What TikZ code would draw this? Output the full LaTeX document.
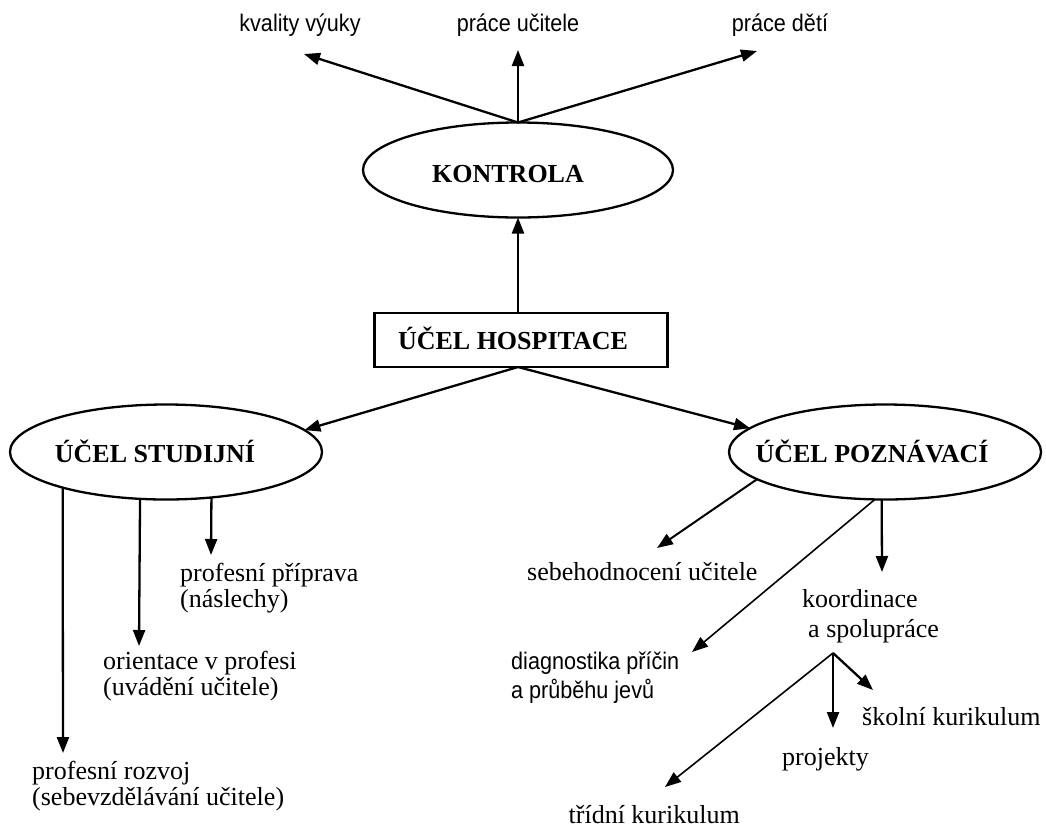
\documentclass[tikz,border=0pt]{standalone}
\usepackage{fontspec}
\setmainfont{Liberation Serif}
\newfontfamily\narrowsans[FakeStretch=0.9]{Liberation Sans}
\usetikzlibrary{arrows.meta,shapes.geometric}
\tikzset{
  tip/.style={-{Triangle[length=16pt,width=12pt]}},
  arr/.style={tip, line width=2.3pt},
  thinarr/.style={tip, line width=1.6pt},
  oval/.style={ellipse, draw, line width=2.3pt, inner sep=0pt, outer sep=0pt},
  bold/.style={inner sep=0pt, anchor=base, font=\fontsize{26}{26}\selectfont\bfseries},
  lbl/.style={inner sep=0pt, anchor=base west, font=\fontsize{26}{26}\selectfont},
  slbl/.style={inner sep=0pt, anchor=base, font=\narrowsans\fontsize{24}{24}\selectfont},
}
\begin{document}
\begin{tikzpicture}[x=1pt,y=-1pt]
\useasboundingbox[fill=white] (0,0) rectangle (1046,828);

% top labels
\node[slbl] (kv) at (300,31) {kvality výuky};
\node[slbl] (pu) at (518,31) {práce učitele};
\node[slbl] (pd) at (780,31) {práce dětí};
\coordinate (kvt) at (304,54);
\coordinate (put) at (518,50);
\coordinate (pdt) at (757,51);

% KONTROLA
\node[oval, minimum width=310pt, minimum height=95pt] (kon) at (518,170) {};
\node[bold] (kont) at (508,182) {KONTROLA};
\draw[arr] (kon.north) -- (kvt);
\draw[arr] (kon.north) -- (put);
\draw[arr] (kon.north) -- (pdt);

% box
\node[draw, line width=2.3pt, minimum width=293pt, minimum height=54pt, inner sep=0pt, outer sep=0pt] (box) at (521,340) {};
\node[bold] (boxt) at (513,349) {ÚČEL HOSPITACE};
\draw[arr] (box.north -| kon.south) -- (kon.south);

% studijni
\node[oval, minimum width=312pt, minimum height=95pt] (stu) at (166,452) {};
\node[bold] (stut) at (155,462) {ÚČEL STUDIJNÍ};
% poznavaci
\node[oval, minimum width=312pt, minimum height=95pt] (poz) at (885,452) {};
\node[bold] (pozt) at (872,462) {ÚČEL POZNÁVACÍ};

\coordinate (hs) at (518,367);
\draw[arr] (hs) -- (stu.9);
\draw[arr] (hs) -- (poz.170);

% studijni children
\coordinate (t1) at (211,555);
\coordinate (t2) at (139,646);
\coordinate (t3) at (63,753);
\draw[arr] (stu.315) -- (t1);
\draw[arr] (stu.241) -- (t2);
\draw[arr] (stu.199) -- (t3);
\node[lbl] (pp1) at (180,581) {profesní příprava};
\node[lbl] (pp2) at (180,607) {(náslechy)};
\node[lbl] (or1) at (103,669) {orientace v profesi};
\node[lbl] (or2) at (103,695) {(uvádění učitele)};
\node[lbl] (pr1) at (32,779) {profesní rozvoj};
\node[lbl] (pr2) at (32,805) {(sebevzdělávání učitele)};

% poznavaci children
\coordinate (sbt) at (657,548);
\coordinate (kot) at (882,572);
\coordinate (dgt) at (692,652);
\draw[thinarr, line width=2pt] (poz.192) -- (sbt);
\draw[arr] (poz.266) -- (kot);
\draw[thinarr] (poz.258) -- (dgt);
\node[lbl] (sb) at (527,580) {sebehodnocení učitele};
\node[lbl] (ko1) at (802,607) {koordinace};
\node[lbl] (ko2) at (808,637) {a spolupráce};
\node[slbl, anchor=base west] (dg1) at (511,669) {diagnostika příčin};
\node[slbl, anchor=base west] (dg2) at (511,698) {a průběhu jevů};

% koordinace children
\coordinate (kap) at (833,653);
\coordinate (skt) at (873,690);
\coordinate (prt) at (833,728);
\coordinate (trt) at (665,787);
\draw[arr] (kap) -- (skt);
\draw[arr] (kap) -- (prt);
\draw[thinarr] (kap) -- (trt);
\node[lbl] (sk) at (862,725) {školní kurikulum};
\node[lbl] (pj) at (782,765) {projekty};
\node[lbl, anchor=base east] (tk) at (740,823) {třídní kurikulum};
\end{tikzpicture}
\end{document}
